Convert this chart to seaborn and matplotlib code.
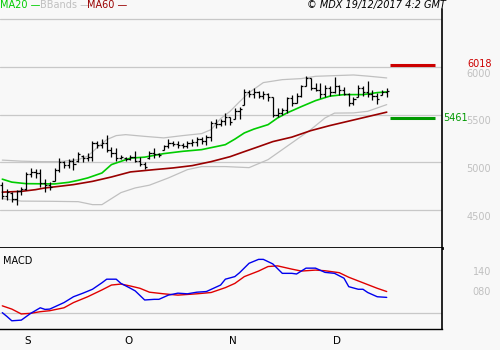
import numpy as np
import matplotlib
matplotlib.use("Agg")
import matplotlib.pyplot as plt
import seaborn as sns
from matplotlib.transforms import blended_transform_factory, offset_copy

# ---------------- data ----------------
high = [4790, 4720, 4690, 4710, 4740, 4900, 4945, 4925, 4925, 4830,
        4790, 4945, 5050, 5010, 5030, 5050, 5110, 5080, 5100, 5220,
        5220, 5240, 5290, 5165, 5150, 5080, 5060, 5080, 5120, 5060,
        5000, 5115, 5150, 5100, 5185, 5240, 5220, 5220, 5200, 5220,
        5240, 5265, 5265, 5290, 5430, 5450, 5455, 5520, 5480, 5570,
        5585, 5770, 5760, 5780, 5745, 5745, 5725, 5680, 5570, 5570,
        5690, 5710, 5730, 5815, 5910, 5885, 5830, 5830, 5815, 5800,
        5895, 5815, 5795, 5730, 5690, 5815, 5800, 5850, 5760, 5730,
        5760, 5780]
low = [4610, 4600, 4580, 4555, 4660, 4710, 4850, 4840, 4740, 4690,
       4710, 4800, 4900, 4945, 4945, 4920, 5000, 5000, 5010, 5010,
       5150, 5150, 5110, 5060, 5010, 5030, 5010, 5020, 5000, 4960,
       4925, 5030, 5050, 5060, 5130, 5150, 5170, 5150, 5150, 5150,
       5170, 5170, 5195, 5185, 5220, 5360, 5380, 5395, 5395, 5450,
       5450, 5600, 5690, 5675, 5675, 5660, 5640, 5480, 5480, 5500,
       5520, 5590, 5620, 5690, 5800, 5760, 5745, 5675, 5690, 5700,
       5730, 5710, 5710, 5590, 5605, 5690, 5700, 5690, 5655, 5610,
       5705, 5690]
opens = [4760, 4650, 4680, 4620, 4700, 4720, 4880, 4900, 4890, 4780,
         4760, 4800, 4920, 5000, 4970, 5010, 5010, 5070, 5040, 5060,
         5200, 5180, 5200, 5130, 5100, 5040, 5050, 5030, 5060, 5010,
         4980, 5040, 5100, 5090, 5130, 5170, 5200, 5190, 5180, 5170,
         5200, 5210, 5240, 5220, 5270, 5410, 5400, 5430, 5480, 5450,
         5540, 5600, 5740, 5720, 5740, 5700, 5720, 5680, 5500, 5520,
         5550, 5670, 5620, 5700, 5800, 5880, 5780, 5760, 5720, 5780,
         5740, 5800, 5760, 5720, 5620, 5690, 5780, 5740, 5720, 5700,
         5710, 5740]
closes = [4650, 4690, 4620, 4700, 4720, 4880, 4900, 4890, 4780, 4760,
          4740, 4920, 5000, 4970, 5010, 4980, 5090, 5040, 5060, 5200,
          5180, 5200, 5130, 5100, 5040, 5060, 5030, 5060, 5010, 4980,
          4950, 5100, 5090, 5080, 5170, 5200, 5190, 5180, 5170, 5200,
          5210, 5240, 5220, 5270, 5410, 5400, 5430, 5480, 5420, 5540,
          5560, 5740, 5720, 5740, 5700, 5720, 5680, 5500, 5520, 5550,
          5670, 5620, 5700, 5800, 5880, 5780, 5760, 5720, 5780, 5740,
          5800, 5760, 5720, 5620, 5660, 5780, 5740, 5720, 5700, 5660,
          5740, 5750]

ma20_idx = [0, 2, 5, 11, 14, 16, 18, 21, 23, 25, 27, 30, 34, 38, 42, 45, 47,
            49, 51, 53, 56, 58, 60, 63, 66, 69, 72, 76, 79, 81]
ma20_val = [4823, 4792, 4776, 4773, 4790, 4811, 4836, 4888, 4976, 5010, 5044,
            5054, 5091, 5115, 5133, 5164, 5185, 5243, 5308, 5348, 5395, 5465,
            5518, 5584, 5647, 5694, 5710, 5710, 5731, 5738]

ma60_idx = [0, 4, 7, 9, 12, 15, 19, 23, 27, 32, 36, 40, 44, 48, 51, 54, 57,
            61, 65, 69, 73, 77, 81]
ma60_val = [4687, 4695, 4713, 4731, 4748, 4766, 4800, 4846, 4899, 4923, 4941,
            4965, 5007, 5059, 5112, 5164, 5217, 5264, 5332, 5385, 5432, 5479,
            5526]

bb_up_idx = [0, 4, 8, 12, 16, 18, 20, 22, 24, 26, 30, 34, 38, 42, 44, 46, 48,
             50, 52, 55, 59, 63, 66, 70, 74, 77, 81]
bb_up_val = [5023, 5012, 5007, 5007, 5028, 5065, 5154, 5238, 5280, 5290, 5272,
             5256, 5280, 5301, 5343, 5458, 5535, 5636, 5731, 5836, 5867, 5878,
             5902, 5909, 5916, 5904, 5885]

bb_lo_idx = [0, 4, 10, 16, 19, 21, 23, 25, 28, 31, 35, 39, 42, 47, 52, 56, 61,
             65, 68, 70, 74, 77, 79, 81]
bb_lo_val = [4619, 4593, 4591, 4587, 4556, 4556, 4619, 4682, 4731, 4760, 4836,
             4923, 4955, 4955, 4944, 5028, 5203, 5343, 5465, 5516, 5518, 5535,
             5570, 5605]

macd_idx = [0, 1, 2, 4, 6, 8, 9, 10, 13, 15, 17, 19, 21, 22, 24, 25, 27, 28,
            30, 32, 33, 35, 37, 39, 41, 43, 46, 47, 49, 50, 52, 54, 55, 57, 59,
            61, 62, 64, 66, 68, 70, 72, 73, 75, 76, 77, 79, 81]
macd_val = [1, -11, -24, -22, -1, 16, 11, 12, 32, 50, 61, 73, 93, 104, 104, 91,
            76, 68, 40, 42, 42, 55, 61, 59, 64, 66, 86, 104, 112, 124, 153, 165,
            165, 151, 122, 122, 120, 138, 138, 125, 122, 107, 81, 73, 73, 63,
            50, 48]

signal_idx = [0, 2, 4, 6, 8, 10, 13, 15, 18, 21, 23, 25, 27, 29, 31, 34, 37,
              41, 44, 47, 49, 51, 54, 56, 58, 61, 63, 66, 68, 71, 73, 76, 79, 81]
signal_val = [22, 12, -3, -1, 4, 7, 16, 32, 50, 71, 86, 89, 83, 76, 64, 59, 55,
              59, 63, 78, 91, 112, 129, 143, 145, 135, 129, 132, 130, 124, 110,
              93, 76, 66]

price_ticks = [4500, 5000, 5500, 6000]
price_tick_labels = ["4500", "5000", "5500", "6000"]
price_grid = [4500, 5000, 5500, 6000, 6500]
macd_ticks = [80, 140]
macd_tick_labels = ["080", "140"]
resist_level, resist_label = 6018, "6018"
support_level, support_label = 5461, "5461"
month_idx = [4, 25, 47, 69]
month_labels = ["S", "O", "N", "D"]

# ---------------- styling ----------------
sns.set_style("white")
plt.rcParams['font.family'] = ['DejaVu Sans']

BG = '#f8f8f8'
GRID = '#c8c8c8'
LIGHT = '#c0c0c0'
W, H = 500, 350


def fx(px):
    return px / W


def fy(py):
    return 1 - py / H


fig = plt.figure(figsize=(5, 3.5), dpi=100, facecolor=BG)
ax = fig.add_axes([0, fy(248), fx(442), fy(9) - fy(248)])
ax2 = fig.add_axes([0, fy(329), fx(442), fy(248) - fy(329)], sharex=ax)
for a in (ax, ax2):
    a.set_facecolor(BG)
    a.spines['top'].set_visible(False)
    a.spines['left'].set_visible(False)
    a.spines['right'].set_color('black')
    a.spines['bottom'].set_color('black')
ax.spines['right'].set_linewidth(1.2)
ax.spines['bottom'].set_linewidth(2.0)
ax2.spines['right'].set_linewidth(1.2)
ax2.spines['bottom'].set_linewidth(1.0)

days = np.arange(len(high))

# gridlines
for g in price_grid:
    ax.axhline(g, color=GRID, lw=0.9, zorder=0)
ax2.axhline(0, color=GRID, lw=0.9, zorder=0)

# indicators
sns.lineplot(x=bb_up_idx, y=bb_up_val, ax=ax, color=LIGHT, lw=0.9, zorder=1)
sns.lineplot(x=bb_lo_idx, y=bb_lo_val, ax=ax, color=LIGHT, lw=0.9, zorder=1)
sns.lineplot(x=ma60_idx, y=ma60_val, ax=ax, color='#990000', lw=1.2, zorder=2)
sns.lineplot(x=ma20_idx, y=ma20_val, ax=ax, color='#00cc00', lw=1.2, zorder=2)

# OHLC bars
ax.vlines(days, low, high, color='black', lw=0.9, zorder=3)
ax.hlines(opens, days - 0.45, days, color='black', lw=0.9, zorder=3)
ax.hlines(closes, days, days + 0.45, color='black', lw=0.9, zorder=3)

# support / resistance
ax.hlines(resist_level, 81.7, 91.2, color='#cc0000', lw=2.2, zorder=3)
ax.hlines(support_level, 81.7, 91.2, color='#009900', lw=2.2, zorder=3)

ax.set_xlim(-0.485, 92.65)
ax.set_ylim(4101, 6608)
ax.tick_params(left=False, bottom=False, labelleft=False, labelbottom=False)
ax.set_xlabel('')
ax.set_ylabel('')

# MACD
sns.lineplot(x=signal_idx, y=signal_val, ax=ax2, color='#e00000', lw=1.0, zorder=2)
sns.lineplot(x=macd_idx, y=macd_val, ax=ax2, color='#0000ee', lw=1.0, zorder=3)
ax2.set_ylim(-49.3, 200)
ax2.set_xticks(month_idx)
ax2.tick_params(axis='x', direction='out', length=8, width=0.8, color='black',
                labelbottom=False)
ax2.tick_params(axis='y', left=False, labelleft=False)
ax2.set_xlabel('')
ax2.set_ylabel('')

tr2 = blended_transform_factory(ax2.transData, ax2.transAxes)
for m, lab in zip(month_idx, month_labels):
    ax2.text(m + 0.7, -0.09, lab, transform=tr2, ha='left', va='top',
             fontsize=7.5, color='black')

# right-hand labels
trp = blended_transform_factory(fig.transFigure, ax.transData)
trp_down = offset_copy(trp, fig=fig, x=0, y=-1.2, units='points')
for v, lab in zip(price_ticks, price_tick_labels):
    ax.text(fx(491), v, lab, transform=trp_down, ha='right', va='top',
            fontsize=7, color=LIGHT, clip_on=False)
trp_up = offset_copy(trp, fig=fig, x=0, y=-1.4, units='points')
ax.text(fx(467), 6000, resist_label, transform=trp_up, ha='left',
        va='bottom', fontsize=7, color='#cc0000', clip_on=False)
ax.text(fx(443), support_level, support_label, transform=trp, ha='left',
        va='center', fontsize=7, color='#009900', clip_on=False)

trm = blended_transform_factory(fig.transFigure, ax2.transData)
for v, lab in zip(macd_ticks, macd_tick_labels):
    ax2.text(fx(491), v, lab, transform=trm, ha='right', va='top',
             fontsize=7, color=LIGHT, clip_on=False)

fig.text(fx(3), fy(261), 'MACD', ha='left', va='center', fontsize=7,
         color='black')

# header legend
fig.text(fx(0), fy(5), 'MA20 —', ha='left', va='center', fontsize=7,
         color='#00cc00')
fig.text(fx(40), fy(5), 'BBands —', ha='left', va='center', fontsize=7,
         color=LIGHT)
fig.text(fx(87), fy(5), 'MA60 —', ha='left', va='center', fontsize=7,
         color='#990000')
fig.text(fx(446), fy(5), '© MDX 19/12/2017 4:2 GMT', ha='right', va='center',
         fontsize=7, style='italic', color='black')

fig.savefig('out.png', dpi=100, facecolor=BG)
